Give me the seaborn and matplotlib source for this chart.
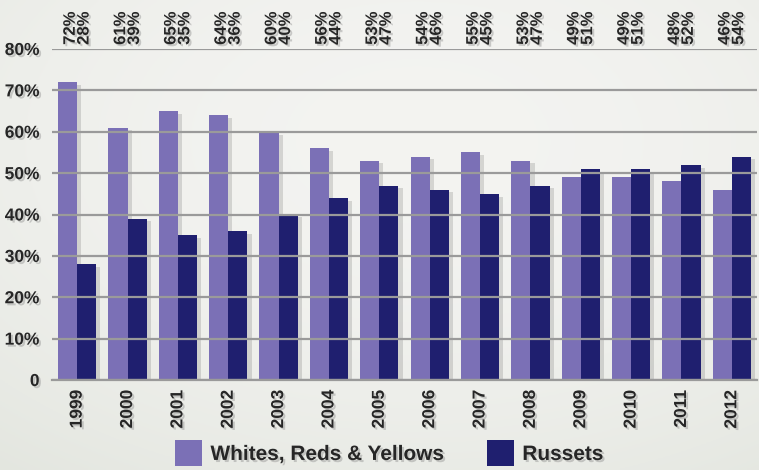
import numpy as np
import pandas as pd
import matplotlib
matplotlib.use('Agg')
import matplotlib.pyplot as plt
import matplotlib.patheffects as pe
from matplotlib.patches import Patch
import seaborn as sns

# --- data ---
years = ['1999', '2000', '2001', '2002', '2003', '2004', '2005',
         '2006', '2007', '2008', '2009', '2010', '2011', '2012']
whites = [72, 61, 65, 64, 60, 56, 53, 54, 55, 53, 49, 49, 48, 46]
russets = [28, 39, 35, 36, 40, 44, 47, 46, 45, 47, 51, 51, 52, 54]
series_names = ['Whites, Reds & Yellows', 'Russets']
y_ticks = [0, 10, 20, 30, 40, 50, 60, 70, 80]
y_labels = ['0', '10%', '20%', '30%', '40%', '50%', '60%', '70%', '80%']

colors = ['#7b70b6', '#1f1f6f']

df = pd.DataFrame({
    'year': years * 2,
    'share': whites + russets,
    'type': [series_names[0]] * len(years) + [series_names[1]] * len(years),
})

sns.set_style('white')
plt.rcParams['font.family'] = ['Liberation Sans Narrow', 'Liberation Sans', 'DejaVu Sans']
plt.rcParams['font.weight'] = 'bold'

fig = plt.figure(figsize=(7.59, 4.70), dpi=100)

# grey paper-like background as a soft gradient
bg = fig.add_axes([0, 0, 1, 1], zorder=-10)
yy, xx = np.mgrid[0:1:200j, 0:1:300j]
light = 1 - 0.7 * ((xx - 0.55) ** 2 + (yy - 0.3) ** 2)
c_dark = np.array([0.84, 0.86, 0.82])
c_light = np.array([0.955, 0.955, 0.945])
img = c_dark + (c_light - c_dark) * np.clip(light, 0, 1)[..., None]
bg.imshow(img, aspect='auto', extent=[0, 1, 0, 1], origin='upper')
bg.axis('off')

ax = fig.add_axes([52 / 759, (470 - 380) / 470, 705 / 759, 331 / 470])
ax.patch.set_alpha(0)

shadow = [pe.SimplePatchShadow(offset=(3, -2), shadow_rgbFace='#666666', alpha=0.22), pe.Normal()]
txt_fx = [pe.withSimplePatchShadow(offset=(1.5, -1.5), shadow_rgbFace='#888888', alpha=0.4)]

sns.barplot(data=df, x='year', y='share', hue='type', palette=colors,
            width=0.76, gap=0, saturation=1, ax=ax, legend=False)
for bar in ax.patches:
    bar.set_path_effects(shadow)
    bar.set_linewidth(0)

ax.set_xlim(-0.5, len(years) - 0.5)
ax.set_ylim(0, 80)
ax.set_yticks(y_ticks)
ax.set_yticklabels(y_labels, fontsize=12.5, fontweight='bold')
ax.grid(axis='y', color='#9a9a9a', linewidth=1.6)
ax.set_axisbelow(False)
for s in ['top', 'right', 'left']:
    ax.spines[s].set_visible(False)
ax.spines['bottom'].set_color('#9a9a9a')
ax.spines['bottom'].set_linewidth(1.6)

ax.set_xticks(range(len(years)))
ax.set_xticklabels(years, rotation=90, fontsize=12.5, fontweight='bold')
ax.set_xticks(np.arange(-0.5, len(years)), minor=True)
ax.tick_params(axis='x', which='major', length=0, pad=7)
ax.tick_params(axis='x', which='minor', direction='in', length=6, width=1.5, color='#9a9a9a')
ax.tick_params(axis='y', length=0, pad=9)
ax.set_xlabel('')
ax.set_ylabel('')
for lab in ax.get_xticklabels() + ax.get_yticklabels():
    lab.set_path_effects(txt_fx)

# percentage pairs above the plot
for i, (w, r) in enumerate(zip(whites, russets)):
    ax.text(i, 81.0, f'{w}%\n{r}%', rotation=90, ha='center', va='bottom',
            fontsize=12, fontweight='bold', linespacing=0.9, clip_on=False,
            path_effects=txt_fx)

handles = [Patch(facecolor=c, edgecolor='none') for c in colors]
leg = fig.legend(handles, series_names, loc='center', bbox_to_anchor=(0.513, 0.036),
                 ncol=2, frameon=False, fontsize=15, handlelength=1.3, handleheight=1.5,
                 columnspacing=2.0, handletextpad=0.4, borderpad=0)
for t in leg.get_texts():
    t.set_fontweight('bold')
    t.set_path_effects(txt_fx)

fig.savefig('out.png', dpi=100)
